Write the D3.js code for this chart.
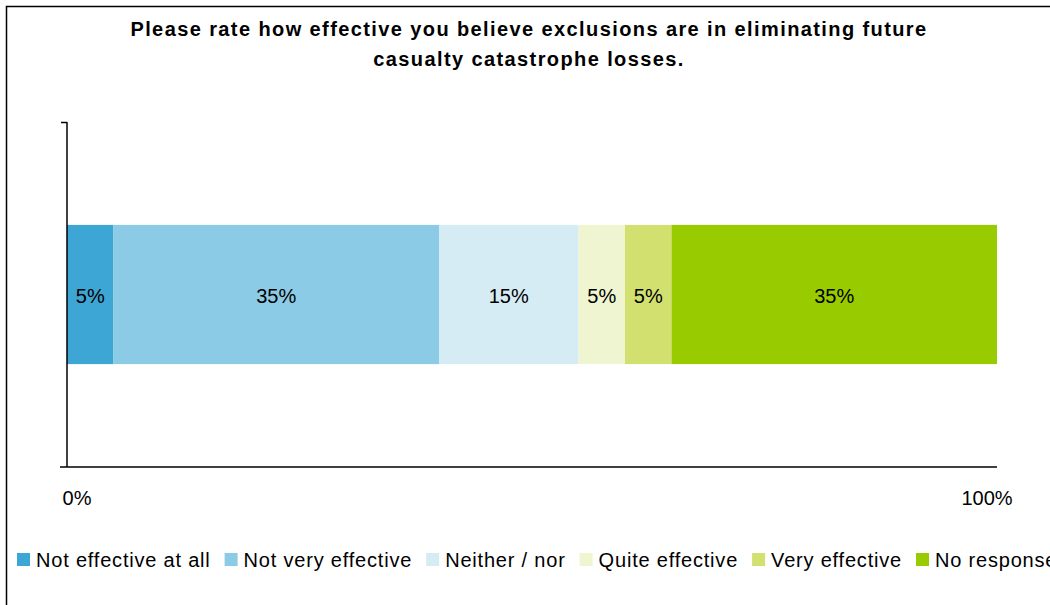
<!DOCTYPE html>
<html>
<head>
<meta charset="utf-8">
<script src="https://cdn.jsdelivr.net/npm/d3@7"></script>
<style>
  body { margin: 0; background: #fff; }
  text { font-family: "Liberation Sans", Arial, sans-serif; fill: #000; }
</style>
</head>
<body>
<script>
// data
var categories = ["Not effective at all", "Not very effective", "Neither / nor", "Quite effective", "Very effective", "No response"];
var values = [0.05, 0.35, 0.15, 0.05, 0.05, 0.35];
var colors = ["#3ea6d4", "#8ccbe6", "#d6ecf5", "#eef5d0", "#d2e06f", "#99cc00"];
var tickLabels = ["0%", "100%"];
var titleLines = ["Please rate how effective you believe exclusions are in eliminating future", "casualty catastrophe losses."];

var W = 1050, H = 605;
var svg = d3.select("body").append("svg").attr("width", W).attr("height", H);

// outer frame (runs off the right and bottom edges)
svg.append("rect").attr("x", 6.5).attr("y", 6.5).attr("width", 1100).attr("height", 700)
  .attr("fill", "none").attr("stroke", "#000").attr("stroke-width", 1.5);

svg.selectAll(".title").data(titleLines).enter().append("text")
  .attr("x", 529).attr("y", function(d, i) { return 36 + i * 30; })
  .attr("text-anchor", "middle").style("font-weight", "bold").style("font-size", "20px")
  .style("letter-spacing", "1.4px")
  .text(function(d) { return d; });

var x = d3.scaleLinear().domain([0, 1]).range([67, 997]);
var y = d3.scaleBand().domain(["q"]).range([122, 467]).padding(0.425);

// stack
var starts = [];
var acc = 0;
values.forEach(function(v) { starts.push(acc); acc += v; });

var seg = svg.selectAll(".seg").data(values).enter().append("g");
seg.append("rect")
  .attr("x", function(d, i) { return x(starts[i]); })
  .attr("y", y("q"))
  .attr("width", function(d, i) { return x(starts[i] + d) - x(starts[i]); })
  .attr("height", y.bandwidth())
  .attr("fill", function(d, i) { return colors[i]; });
seg.append("text")
  .attr("x", function(d, i) { return x(starts[i] + d / 2); })
  .attr("y", y("q") + y.bandwidth() / 2 + 8)
  .attr("text-anchor", "middle").style("font-size", "20px")
  .text(function(d) { return Math.round(d * 100) + "%"; });

// axes
svg.append("line").attr("x1", x(0)).attr("x2", x(0)).attr("y1", 122).attr("y2", 467)
  .attr("stroke", "#000").attr("stroke-width", 1.5);
svg.append("line").attr("x1", x(0) - 6).attr("x2", x(0)).attr("y1", 122.5).attr("y2", 122.5)
  .attr("stroke", "#000").attr("stroke-width", 1.5);
svg.append("line").attr("x1", x(0) - 7).attr("x2", x(1)).attr("y1", 467).attr("y2", 467)
  .attr("stroke", "#000").attr("stroke-width", 1.5);

svg.selectAll(".tick").data(tickLabels).enter().append("text")
  .attr("x", function(d, i) { return i === 0 ? x(0) + 10 : x(1) - 10; })
  .attr("y", 505).attr("text-anchor", "middle").style("font-size", "20px")
  .text(function(d) { return d; });

// legend
var lx = 17, ly = 560;
categories.forEach(function(c, i) {
  svg.append("rect").attr("x", lx).attr("y", ly - 7).attr("width", 13).attr("height", 13)
    .attr("fill", colors[i]);
  var t = svg.append("text").attr("x", lx + 19).attr("y", ly + 7).style("font-size", "20px")
    .style("letter-spacing", "0.8px").text(c);
  lx += 19 + t.node().getComputedTextLength() + 14;
});
</script>
</body>
</html>
